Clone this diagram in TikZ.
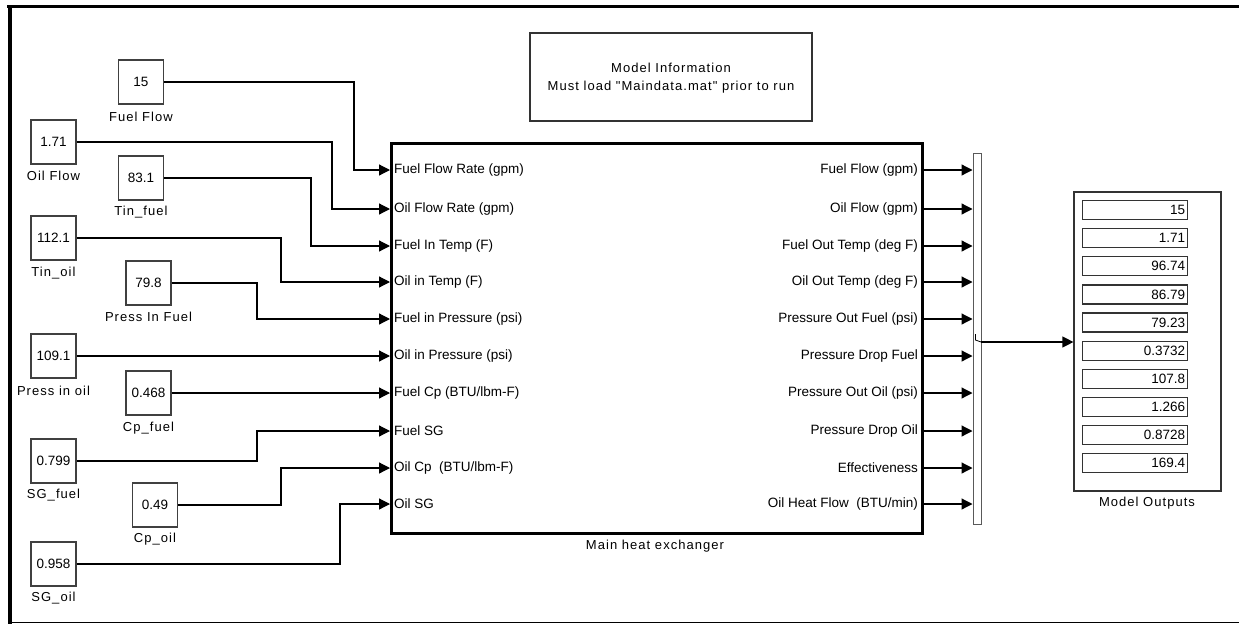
\documentclass[tikz,border=0pt]{standalone}
\usepackage{fontspec}
\setmainfont{Liberation Sans}
\newfontfamily\spacedfont[LetterSpace=8]{Liberation Sans}
\usetikzlibrary{arrows.meta}
\begin{document}
\begin{tikzpicture}[x=1pt,y=-1pt,
  every node/.style={font=\fontsize{13.5}{15}\selectfont, inner sep=0pt},
  const/.style={draw=black!75, line width=1.3pt, minimum width=45pt, minimum height=44pt},
  lbl/.style={font=\spacedfont\fontsize{13}{15}\selectfont},
  wire/.style={line width=1.2pt, -{Triangle[length=11pt,width=11pt]}},
  field/.style={draw=black!80, line width=1.2pt, minimum width=105pt, minimum height=19pt, anchor=north west, text width=100pt, align=right},
]
\useasboundingbox (0,0) rectangle (1239,624);
% frame
\draw[line width=3pt] (7,6.5) -- (1239,6.5);
\draw[line width=4pt] (10,5) -- (10,624);
\draw[line width=1pt] (8,622.5) -- (1239,622.5);

% model information
\node[draw=black!80, line width=1.2pt, minimum width=282pt, minimum height=88pt] (info) at (671,77) {};
\node[lbl] (info1) at (671,68) {Model Information};
\node[lbl] (info2) at (671,87) {Must load "Maindata.mat" prior to run};

% main block
\node[draw, line width=3pt, minimum width=531pt, minimum height=390pt, outer sep=0pt] (main) at (656.5,338) {};
\node[lbl] (mainl) at (655,546) {Main heat exchanger};

% ports
\foreach \i/\y/\tin/\tout in {
  1/170/{Fuel Flow Rate (gpm)}/{Fuel Flow (gpm)},
  2/209/{Oil Flow Rate (gpm)}/{Oil Flow (gpm)},
  3/246/{Fuel In Temp (F)}/{Fuel Out Temp (deg F)},
  4/282/{Oil in Temp (F)}/{Oil Out Temp (deg F)},
  5/319/{Fuel in Pressure (psi)}/{Pressure Out Fuel (psi)},
  6/356/{Oil in Pressure (psi)}/{Pressure Drop Fuel},
  7/393/{Fuel Cp (BTU/lbm-F)}/{Pressure Out Oil (psi)},
  8/431/{Fuel SG}/{Pressure Drop Oil},
  9/468/{Oil Cp\ \ (BTU/lbm-F)}/{Effectiveness},
  10/504/{Oil SG}/{Oil Heat Flow\ \ (BTU/min)}}{
  \coordinate (ip\i) at (390,\y);
  \coordinate (op\i) at (923,\y);
  \node[anchor=west] (il\i) at (394,\y) {\tin};
  \node[anchor=east] (ol\i) at (918,\y) {\tout};
}

% constants
\node[const] (c1) at (141,82) {15};
\node[lbl] (c1l) at (141,117) {Fuel Flow};
\node[const] (c2) at (53.5,142) {1.71};
\node[lbl] (c2l) at (53.5,176) {Oil Flow};
\node[const] (c3) at (141,178) {83.1};
\node[lbl] (c3l) at (141,212) {Tin\_fuel};
\node[const] (c4) at (53.5,238) {112.1};
\node[lbl] (c4l) at (53.5,273) {Tin\_oil};
\node[const] (c5) at (148.5,283) {79.8};
\node[lbl] (c5l) at (148.5,317) {Press In Fuel};
\node[const] (c6) at (53.5,356) {109.1};
\node[lbl] (c6l) at (53.5,391) {Press in oil};
\node[const] (c7) at (148.5,393) {0.468};
\node[lbl] (c7l) at (148.5,428) {Cp\_fuel};
\node[const] (c8) at (53.5,461) {0.799};
\node[lbl] (c8l) at (53.5,495) {SG\_fuel};
\node[const] (c9) at (155,505) {0.49};
\node[lbl] (c9l) at (155,539) {Cp\_oil};
\node[const] (c10) at (53.5,564) {0.958};
\node[lbl] (c10l) at (53.5,598) {SG\_oil};

% input wires
\draw[wire] (c1.east) -| (354,170) -- (ip1);
\draw[wire] (c2.east) -| (332,209) -- (ip2);
\draw[wire] (c3.east) -| (311,246) -- (ip3);
\draw[wire] (c4.east) -| (281,282) -- (ip4);
\draw[wire] (c5.east) -| (257,319) -- (ip5);
\draw[wire] (c6.east) -- (ip6);
\draw[wire] (c7.east) -- (ip7);
\draw[wire] (c8.east) -| (257,431) -- (ip8);
\draw[wire] (c9.east) -| (281,468) -- (ip9);
\draw[wire] (c10.east) -| (340,504) -- (ip10);

% mux
\node[draw=black!65, fill=white, line width=1pt, minimum width=8pt, minimum height=371pt] (mux) at (977,338.5) {};
\foreach \i in {1,...,10}{
  \draw[wire] (op\i) -- (mux.west |- op\i);
}
\coordinate (muxo) at (981,342);
\draw[line width=0.8pt] (975.5,334) -- (975.5,340) -- (muxo);

% display
\node[draw=black!80, line width=1.2pt, minimum width=147pt, minimum height=299pt] (disp) at (1147.5,341.5) {};
\node[lbl] (displ) at (1147,503) {Model Outputs};
\draw[wire] (muxo) -- (disp.west |- muxo);
\foreach \i/\v in {0/15,1/1.71,2/96.74,3/86.79,4/79.23,5/0.3732,6/107.8,7/1.266,8/0.8728,9/169.4}{
  \node[field] (f\i) at (1082,200+28.1*\i) {\v\hspace{3pt}};
}
\end{tikzpicture}
\end{document}
